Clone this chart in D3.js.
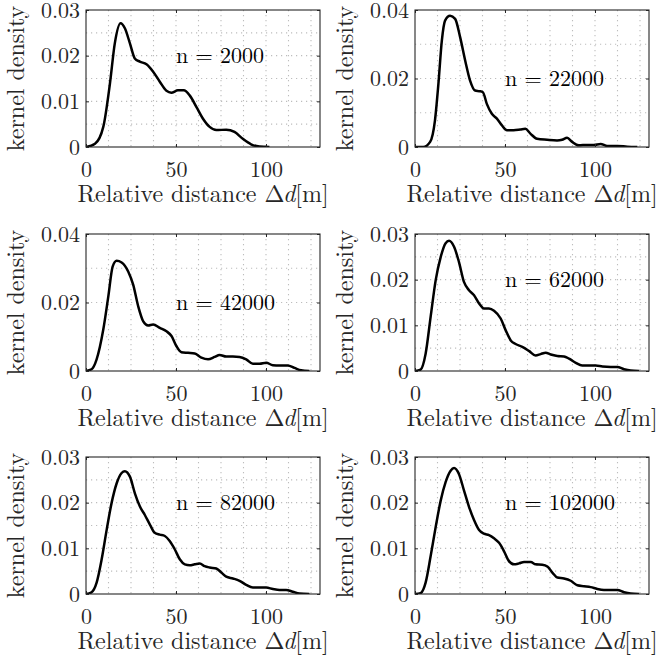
<!DOCTYPE html>
<html><head><meta charset="utf-8">
<script src="https://cdn.jsdelivr.net/npm/d3@7"></script>
<style>body{margin:0;background:#fff} svg{display:block}</style>
</head><body>
<script>
// ---------- data ----------
const sampleSizes = [2000, 22000, 42000, 62000, 82000, 102000];
const xDomainMax = 130;
const xTickValues = [0, 50, 100];
const xTickLabels = ["0", "50", "100"];
const yMaxes = [0.03, 0.04, 0.04, 0.03, 0.03, 0.03];
const yTickValues = [[0,0.01,0.02,0.03],[0,0.02,0.04],[0,0.02,0.04],[0,0.01,0.02,0.03],[0,0.01,0.02,0.03],[0,0.01,0.02,0.03]];
const yTickLabels = [["0","0.01","0.02","0.03"],["0","0.02","0.04"],["0","0.02","0.04"],["0","0.01","0.02","0.03"],["0","0.01","0.02","0.03"],["0","0.01","0.02","0.03"]];

const dist2000 = [0,5,9.6,13.3,16,19.2,21.6,24.4,27.1,29.9,33.6,37.3,41,44.7,47.4,51.1,54.3,57.6,61.3,65,68.7,72.4,77.9,82.5,87.1,91.7,96.4,101.9];
const dens2000 = [0,0.0007,0.0044,0.0139,0.0227,0.0271,0.026,0.0227,0.0194,0.0187,0.0181,0.0165,0.0143,0.0123,0.0119,0.0124,0.0124,0.0113,0.0088,0.0062,0.0044,0.0037,0.0038,0.0033,0.0018,0.0006,0.0001,0];

const dist22000 = [0,4.6,8.4,11.1,13,14.9,16.7,19.5,22.3,25.1,27.9,30.6,33.4,35.8,37.7,39.9,42.7,45.5,48.3,51.1,54.8,58.5,61.3,64.1,67.8,73.4,78.9,81.7,84.5,87.3,91,95.6,99.4,103.1,106.8,112.4,117.9,123.5];
const dens22000 = [0,0,0.0015,0.0078,0.0184,0.031,0.0369,0.0383,0.0374,0.032,0.0252,0.0194,0.0165,0.0163,0.016,0.0126,0.0097,0.0083,0.0063,0.0049,0.0049,0.0051,0.0053,0.0039,0.0024,0.0021,0.0019,0.0021,0.0027,0.0015,0.0005,0.0006,0.0006,0.0009,0.0003,0.0003,0.0001,0];

const dist42000 = [0,3.1,5.9,9.6,12.4,14.8,17,19.8,23.5,26.2,29,31.8,34.5,37.3,41,44.7,47.5,50.2,53,56.7,60.4,64.1,67.8,71.5,74.2,77.9,81.6,85.3,89,92.7,96.4,100.1,103.8,107.5,112.1,115.8,119.5,124.1];
const dens42000 = [0,0.0005,0.0034,0.0121,0.0218,0.0305,0.0322,0.0317,0.029,0.0252,0.0189,0.0145,0.0133,0.0136,0.0126,0.0116,0.0102,0.0073,0.0055,0.0053,0.0051,0.0039,0.0034,0.0041,0.0047,0.0042,0.0042,0.0041,0.0034,0.0021,0.0021,0.0024,0.0017,0.0016,0.0016,0.0009,0.0002,0];

const dist62000 = [0,3.1,5.9,8.7,11.5,14.3,17,18.9,21.7,24.4,27.2,30,32.8,35.6,38.3,41.1,43.9,47.6,50.4,53.2,55.9,59.6,63.3,67,69.8,72.6,75.4,79.1,82.8,85.6,89.3,92.9,96.7,100.4,104.1,108.7,112.4,116.1,119.8,124.5];
const dens62000 = [0,0.0003,0.0038,0.0119,0.0199,0.025,0.028,0.0285,0.0272,0.0239,0.0195,0.0177,0.0166,0.0148,0.0137,0.0137,0.0132,0.0115,0.0089,0.0067,0.0059,0.0053,0.0044,0.0034,0.0037,0.004,0.0036,0.0033,0.0032,0.0027,0.0018,0.0012,0.0012,0.0012,0.001,0.0009,0.0009,0.0004,0.0001,0];

const dist82000 = [0,3.1,5.9,8.7,11.5,14.2,17,19.8,21.6,24.4,27.2,29.9,32.7,35.5,38.2,41,43.8,46.5,49.3,52.1,54.9,57.6,60.4,63.2,65.9,68.7,72.4,75.2,77.9,81.6,85.3,89,92.7,96.4,100.1,103.8,107.5,111.2,114.9,118.6,124.1];
const dens82000 = [0,0.0004,0.0025,0.0076,0.0141,0.0199,0.0242,0.0265,0.0269,0.0257,0.022,0.0192,0.0173,0.0152,0.0134,0.013,0.0127,0.0116,0.0098,0.0076,0.0065,0.0063,0.0065,0.0067,0.0061,0.0058,0.0056,0.0047,0.0038,0.0034,0.0029,0.002,0.0014,0.0014,0.0014,0.0011,0.0009,0.0009,0.0005,0.0001,0];

const dist102000 = [0,3.1,5.9,8.7,11.5,14.3,17,19.8,21.7,24.4,27.2,30,32.8,35.6,38.3,41.1,43.9,46.7,49.4,52.2,55,57.8,60.6,64.3,67,70.7,73.5,76.3,79.1,82.8,86.5,90.2,93.9,97.6,101.3,105,108.7,112.4,116.1,119.8,124.5];
const dens102000 = [0,0.0002,0.0025,0.0083,0.0147,0.0205,0.0245,0.027,0.0276,0.0263,0.0227,0.0191,0.0162,0.014,0.0132,0.0129,0.0122,0.0112,0.0094,0.0072,0.0065,0.0067,0.007,0.007,0.0065,0.0064,0.006,0.0047,0.0036,0.0034,0.0029,0.0019,0.0017,0.0015,0.0011,0.0009,0.0009,0.0009,0.0004,0.0001,0];

const distances = [dist2000, dist22000, dist42000, dist62000, dist82000, dist102000];
const densities = [dens2000, dens22000, dens42000, dens62000, dens82000, dens102000];

const xLabelText = "Relative distance ";
const yLabelText = "kernel density";

// ---------- layout ----------
const W = 659, H = 662;
const lefts = [86, 415], tops = [10, 234, 457], pw = 234, ph = 137;
const font = "Latin Modern Roman";
const axisColor = "#262626";

const svg = d3.select("body").append("svg").attr("width", W).attr("height", H)
  .attr("font-family", font);

sampleSizes.forEach((n, i) => {
  const col = i % 2, row = Math.floor(i / 2);
  const g = svg.append("g").attr("transform", `translate(${lefts[col]},${tops[row]})`);
  const x = d3.scaleLinear().domain([0, xDomainMax]).range([0, pw]);
  const y = d3.scaleLinear().domain([0, yMaxes[i]]).range([ph, 0]);
  const yStep = yTickValues[i][1];

  // grid (major + minor, dotted)
  const xg = d3.range(12.5, xDomainMax, 12.5);
  const yg = d3.range(1, Math.round(yMaxes[i] / (yStep / 2))).map(k => k * yStep / 2);
  g.selectAll(".vg").data(xg).join("line")
    .attr("x1", d => x(d)).attr("x2", d => x(d)).attr("y1", 0).attr("y2", ph)
    .attr("stroke", "#bdbdbd").attr("stroke-width", 1.1).attr("stroke-dasharray", "1.2,3.8");
  g.selectAll(".hg").data(yg).join("line")
    .attr("y1", d => y(d)).attr("y2", d => y(d)).attr("x1", 0).attr("x2", pw)
    .attr("stroke", "#bdbdbd").attr("stroke-width", 1.1).attr("stroke-dasharray", "1.2,3.8");

  // clip
  const cid = "clip" + i;
  g.append("clipPath").attr("id", cid).append("rect").attr("width", pw).attr("height", ph);

  // curve
  const pts = distances[i].map((d, k) => [d, densities[i][k]]);
  g.append("path").datum(pts)
    .attr("clip-path", `url(#${cid})`)
    .attr("fill", "none").attr("stroke", "#000").attr("stroke-width", 2.5)
    .attr("stroke-linejoin", "round")
    .attr("d", d3.line().x(d => x(d[0])).y(d => y(d[1])).curve(d3.curveMonotoneX));

  // axes
  const styleAxis = a => {
    a.attr("font-family", font).attr("font-size", 22);
    a.select(".domain").remove();
    a.selectAll("line").attr("stroke", axisColor);
    a.selectAll("text").attr("fill", axisColor).attr("font-family", font).attr("font-size", 22);
  };
  g.append("g").attr("transform", `translate(0,${ph})`)
    .call(d3.axisBottom(x).tickValues(xTickValues).tickFormat((d, k) => xTickLabels[k]).tickSize(-3).tickPadding(14.5))
    .call(styleAxis);
  g.append("g")
    .call(d3.axisTop(x).tickValues(xTickValues).tickFormat("").tickSize(-3)).call(styleAxis);
  g.append("g")
    .call(d3.axisLeft(y).tickValues(yTickValues[i]).tickFormat((d, k) => yTickLabels[i][k]).tickSize(-3).tickPadding(6))
    .call(styleAxis);
  g.append("g").attr("transform", `translate(${pw},0)`)
    .call(d3.axisRight(y).tickValues(yTickValues[i]).tickFormat("").tickSize(-3)).call(styleAxis);

  // box
  g.append("rect").attr("width", pw).attr("height", ph).attr("fill", "none")
    .attr("stroke", axisColor).attr("stroke-width", 1.1);

  // annotation
  g.append("text").attr("fill", "#000").attr("font-family", font).attr("font-size", 22)
    .attr("x", x(50)).attr("y", y(0.02)).attr("dy", "0.32em").text(`n = ${n}`);

  // x label
  const xl = g.append("text").attr("fill", axisColor).attr("font-family", font).attr("font-size", 24)
    .attr("text-anchor", "middle").attr("x", pw / 2).attr("y", ph + 55);
  xl.append("tspan").text(xLabelText + "\u0394");
  xl.append("tspan").attr("font-style", "italic").attr("dx", -1.5).text("d");
  xl.append("tspan").text("[m]");

  // y label
  g.append("text").attr("fill", axisColor).attr("font-family", font).attr("font-size", 24)
    .attr("text-anchor", "middle")
    .attr("transform", `translate(-62,${ph / 2}) rotate(-90)`)
    .text(yLabelText);
});
</script>
</body></html>
